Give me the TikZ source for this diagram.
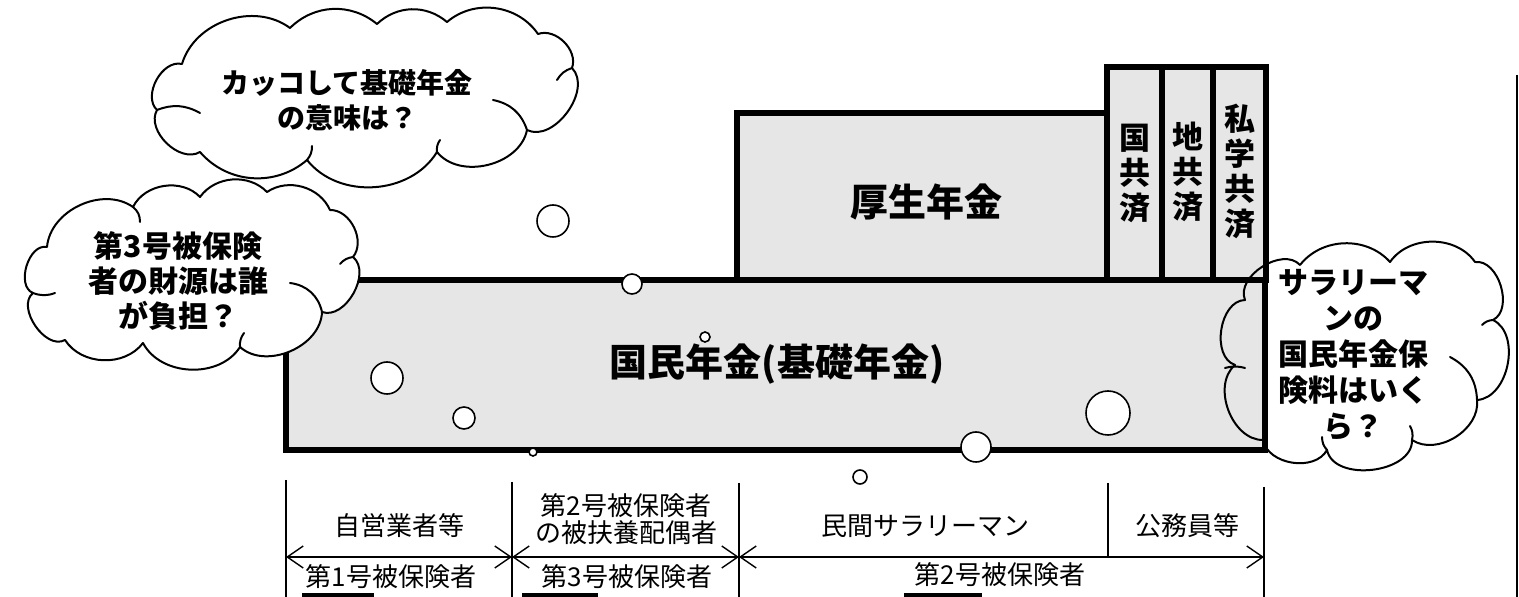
\documentclass[tikz,border=0pt]{standalone}
\usepackage{fontspec}
\usepackage{tikz}
\usetikzlibrary{arrows.meta}
\newfontfamily\jp{Noto Sans CJK JP}
\definecolor{stipple}{RGB}{230,230,230}
\tikzset{
  plate/.style={draw, line width=3pt, fill=stipple},
  platetext/.style={font=\jp\bfseries\fontsize{19}{22}\selectfont},
  pillar/.style={align=center, font=\jp\bfseries\fontsize{15.5}{17.5}\selectfont},
  talk/.style={draw, line width=1pt, line join=round},
  crease/.style={draw, line width=1pt, line cap=round},
  talktext/.style={align=center, font=\jp\bfseries\fontsize{14}{17.5}\selectfont},
  bubble/.style={circle, draw, line width=0.8pt, fill=white, inner sep=0pt},
  tag/.style={align=center, font=\jp\fontsize{13}{13.5}\selectfont},
  span/.style={line width=0.7pt,
    {Straight Barb[length=8pt,width=11pt]}-{Straight Barb[length=8pt,width=11pt]}},
  tick/.style={line width=1pt},
  bar/.style={line width=2pt},
}

\begin{document}
\begin{tikzpicture}[x=0.5pt, y=-0.5pt]
  \useasboundingbox (0,0) rectangle (1519,597);

  % upper tier
  \draw[plate] (737,113) rectangle (1107,280);
  \node[platetext] (kosei) at (926,202) {厚生年金};
  \draw[plate] (1107,67) rectangle (1162,280);
  \draw[plate] (1162,67) rectangle (1213,280);
  \draw[plate] (1213,67) rectangle (1266,280);
  \node[pillar] (kokkyo) at (1135,173) {国\\共\\済};
  \node[pillar] (chikyo) at (1188,172) {地\\共\\済};
  \node[pillar] (shigaku) at (1240,171) {私\\学\\共\\済};

  % base tier
  \draw[plate] (286,280) rectangle (1265,450);
  \node[platetext] (kokumin) at (777,364) {国民年金(基礎年金)};

  % bubbles
  \node[bubble, minimum size=16pt] (b1) at (553,221) {};
  \node[bubble, minimum size=10pt] (b2) at (632,284) {};
  \node[bubble, minimum size=5pt] (b3) at (705,337) {};
  \node[bubble, minimum size=16pt] (b4) at (387,378) {};
  \node[bubble, minimum size=11pt] (b5) at (464,418) {};
  \node[bubble, minimum size=4pt] (b6) at (533,452) {};
  \node[bubble, minimum size=15pt] (b7) at (976,447) {};
  \node[bubble, minimum size=7pt] (b8) at (860,477) {};
  \node[bubble, minimum size=22pt] (b9) at (1108,413) {};

  % clouds
  \draw[talk, fill=white] (157,110) to[bend left=75] (182,64) to[bend left=55] (290,28)
    to[bend left=42] (377,24) to[bend left=42] (447,22) to[bend left=48] (538,34)
    to[bend left=65] (572,68) to[bend left=80] (527,130) to[bend left=65] (437,152)
    to[bend left=55] (307,160) to[bend left=45] (200,152) to[bend left=75] (157,110) -- cycle;
  \draw[crease] (157,110) to[bend left=25] (200,113);
  \draw[crease] (493,100) to[bend left=30] (527,130);
  \draw[crease] (557,80) to[bend left=20] (572,68);
  \draw[crease] (307,160) to[bend right=20] (312,146);
  \draw[crease] (437,152) to[bend left=20] (440,140);
  \node[talktext] (qtop) at (347,100) {カッコして基礎年金\\の意味は？};

  \draw[talk, fill=white] (47,247) to[bend left=60] (133,207) to[bend left=55] (200,197)
    to[bend left=50] (267,192) to[bend left=50] (330,210) to[bend left=65] (353,257)
    to[bend left=80] (322,312) to[bend left=65] (240,347) to[bend left=60] (143,343)
    to[bend left=55] (65,340) to[bend left=85] (33,293) to[bend left=85] (47,247) -- cycle;
  \draw[crease] (133,207) to[bend left=25] (140,222);
  \draw[crease] (340,264) to[bend left=20] (353,257);
  \draw[crease] (290,283) to[bend left=35] (322,312);
  \draw[crease] (240,347) to[bend left=20] (244,333);
  \draw[crease] (33,293) to[bend right=20] (55,293);
  \node[talktext, font=\jp\bfseries\fontsize{15}{17.5}\selectfont] (qleft) at (178,281)
    {第3号被保険\\者の財源は誰\\が負担？};

  \draw[talk] (1245,300) to[bend left=80] (1300,265) to[bend left=50] (1390,262)
    to[bend left=55] (1475,262) to[bend left=80] (1493,320) to[bend left=75] (1477,400)
    to[bend left=65] (1412,440) to[bend left=85] (1327,450) to[bend left=70] (1263,440)
    to[bend left=70] (1235,365) to[bend left=80] (1245,300) -- cycle;
  \draw[crease] (1225,368) to[bend left=15] (1245,368);
  \draw[crease] (1450,357) to[bend left=30] (1477,400);
  \draw[crease] (1482,325) to[bend left=20] (1493,320);
  \draw[crease] (1327,450) to[bend left=20] (1322,437);
  \draw[crease] (1412,440) to[bend right=20] (1410,426);
  \node[talktext, font=\jp\bfseries\fontsize{15}{18}\selectfont] (qright) at (1353,355)
    {サラリーマ\\ンの\\国民年金保\\険料はいく\\ら？};

  % groups below
  \coordinate (t1) at (286,480);  \coordinate (f1) at (286,597);
  \coordinate (t2) at (512,482);  \coordinate (f2) at (512,597);
  \coordinate (t3) at (739,483);  \coordinate (f3) at (739,597);
  \coordinate (t4) at (1108,483); \coordinate (f4) at (1108,557);
  \coordinate (t5) at (1264,487); \coordinate (f5) at (1264,597);
  \draw[tick] (t1) -- (f1);
  \draw[tick] (t2) -- (f2);
  \draw[tick] (t3) -- (f3);
  \draw[tick] (t4) -- (f4);
  \draw[tick] (t5) -- (f5);

  \coordinate (a1) at (286,557);
  \coordinate (a2) at (512,557);
  \coordinate (a3) at (739,557);
  \coordinate (a4) at (1264,557);
  \draw[span] (a1) -- (a2);
  \draw[span] (a2) -- (a3);
  \draw[span] (a3) -- (a4);

  \node[tag] (jiei) at (399,526) {自営業者等};
  \node[tag] (haigu) at (626,519) {第2号被保険者\\の被扶養配偶者};
  \node[tag] (minkan) at (925,526) {民間サラリーマン};
  \node[tag] (komu) at (1187,526) {公務員等};
  \node[tag] (go1) at (391,577) {第1号被保険者};
  \node[tag] (go3) at (627,577) {第3号被保険者};
  \node[tag] (go2) at (1000,575) {第2号被保険者};
  \draw[bar] (302,595) -- (374,595);
  \draw[bar] (522,595) -- (598,595);
  \draw[bar] (904,595) -- (982,595);

  \draw[line width=0.6pt] (1517,75) -- (1517,597);
\end{tikzpicture}
\end{document}
